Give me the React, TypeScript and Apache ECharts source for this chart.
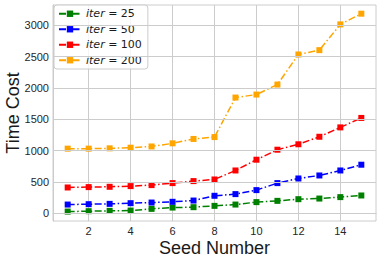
import React, { useEffect, useRef } from "react";
import * as echarts from "echarts";

const seeds = [1, 2, 3, 4, 5, 6, 7, 8, 9, 10, 11, 12, 13, 14, 15];
const iterLabels = ["25", "50", "100", "200"];
const iter25 = [24, 30, 35, 40, 67, 88, 94, 115, 136, 175, 195, 222, 232, 255, 281];
const iter50 = [136, 142, 147, 158, 168, 180, 200, 276, 303, 367, 479, 553, 601, 681, 773];
const iter100 = [409, 415, 420, 431, 447, 479, 511, 537, 681, 853, 1013, 1100, 1220, 1370, 1521];
const iter200 = [1030, 1030, 1035, 1045, 1065, 1115, 1185, 1215, 1847, 1895, 2055, 2536, 2605, 3017, 3188];
const xTicks = [2, 4, 6, 8, 10, 12, 14];
const yTicks = [0, 500, 1000, 1500, 2000, 2500, 3000];
const colors = ["#008000", "#0000ff", "#ff0000", "#ffa500"];

export default function App() {
  const ref = useRef<HTMLDivElement>(null);
  useEffect(() => {
    if (!ref.current) return;
    const chart = echarts.init(ref.current, null, { renderer: "svg" });
    const allData = [iter25, iter50, iter100, iter200];
    const series = allData.map((d, i) => ({
      name: "iter = " + iterLabels[i],
      type: "line",
      data: d.map((v, j) => [seeds[j], v]),
      symbol: "rect",
      symbolSize: 6,
      itemStyle: { color: colors[i] },
      lineStyle: { color: colors[i], width: 1.5, type: [7, 2.5, 1.5, 2.5] },
      z: 3 + i,
    }));
    const grid = "#cccccc";
    const tickColor = "#262626";
    chart.setOption({
      animation: false,
      backgroundColor: "#ffffff",
      grid: {
        left: 53,
        right: 6,
        top: 5,
        bottom: 40,
        show: true,
        borderColor: grid,
        borderWidth: 1,
        containLabel: false,
        outerBoundsMode: "none",
      },
      legend: {
        left: 54,
        top: 5,
        z: 1,
        orient: "vertical",
        itemWidth: 22,
        itemHeight: 8,
        itemGap: 3,
        padding: [2.5, 6, 2.5, 4],
        backgroundColor: "rgba(255,255,255,0.8)",
        borderColor: grid,
        borderWidth: 1,
        borderRadius: 3,
        formatter: (name: string) => "{i|iter} = " + name.split(" = ")[1],
        textStyle: {
          fontFamily: "DejaVu Sans",
          fontSize: 11,
          lineHeight: 12.5,
          color: "#1a1a1a",
          rich: {
            i: { fontStyle: "italic", fontFamily: "DejaVu Sans", fontSize: 11, color: "#1a1a1a" },
          },
        },
      },
      xAxis: {
        type: "value",
        min: 0.3,
        max: 15.7,
        name: "Seed Number",
        nameLocation: "middle",
        nameGap: 18,
        nameMoveOverlap: false,
        nameTextStyle: { fontFamily: "Liberation Sans, Arial", fontSize: 18, color: "#1a1a1a" },
        axisLine: { show: true, lineStyle: { color: grid } },
        axisTick: { show: false, customValues: xTicks },
        axisLabel: {
          customValues: xTicks,
          formatter: (v: number) => String(v),
          fontFamily: "Liberation Sans, Arial",
          fontSize: 11,
          color: tickColor,
          margin: 4,
          hideOverlap: false,
        },
        splitLine: { show: true, lineStyle: { color: grid, width: 1 } },
      },
      yAxis: {
        type: "value",
        min: -127,
        max: 3327,
        z: 10,
        name: "Time Cost",
        nameLocation: "middle",
        nameGap: 31,
        nameMoveOverlap: false,
        nameTextStyle: { fontFamily: "Liberation Sans, Arial", fontSize: 18, color: "#1a1a1a" },
        axisLine: { show: true, lineStyle: { color: grid } },
        axisTick: { show: false, customValues: yTicks },
        axisLabel: {
          customValues: yTicks,
          formatter: (v: number) => String(v),
          fontFamily: "Liberation Sans, Arial",
          fontSize: 11,
          color: tickColor,
          margin: 4,
          hideOverlap: false,
        },
        splitLine: { show: true, lineStyle: { color: grid, width: 1 } },
      },
      series,
    });
    return () => chart.dispose();
  }, []);
  return <div ref={ref} style={{ width: 382, height: 261, position: "fixed", left: 0, top: 0 }} />;
}
